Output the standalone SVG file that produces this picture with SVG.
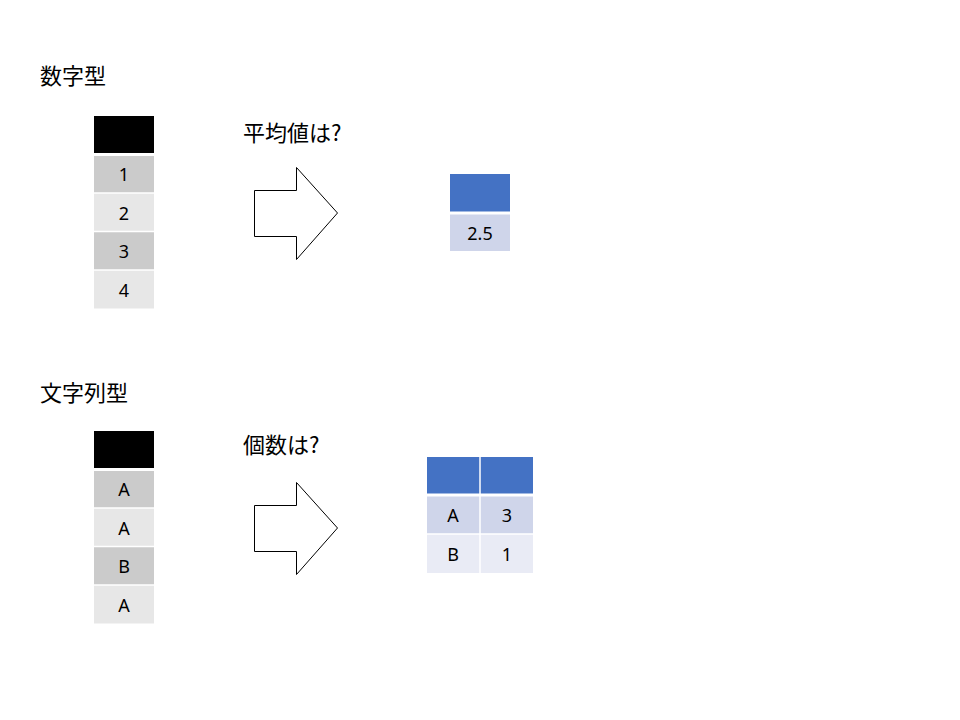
<svg xmlns="http://www.w3.org/2000/svg" width="960" height="720" viewBox="0 0 960 720">
<style>
.title{font-family:"Noto Sans CJK JP","Noto Sans",sans-serif;font-size:22px;fill:#000}
.cell{font-family:"Noto Sans","Liberation Sans",sans-serif;font-size:18px;fill:#000;text-anchor:middle}
.hdr{fill:#000}
.dk{fill:#CBCBCB}
.lt{fill:#E7E7E7}
.bh{fill:#4472C4}
.b1{fill:#CFD5EA}
.b2{fill:#E9EBF5}
.sep{stroke:#fff;stroke-width:1.5}
.sepH{stroke:#fff;stroke-width:3}
.arrow{fill:#fff;stroke:#000;stroke-width:1}
</style>
<rect width="960" height="720" fill="#fff"/>

<g id="numeric-section">
<text class="title" x="40" y="84">数字型</text>
<g id="numeric-table">
<rect class="hdr" x="94" y="116" width="60" height="38.5"/>
<rect class="dk" x="94" y="154.5" width="60" height="38.5"/>
<rect class="lt" x="94" y="193" width="60" height="38.5"/>
<rect class="dk" x="94" y="231.5" width="60" height="38.5"/>
<rect class="lt" x="94" y="270" width="60" height="38.5"/>
<line class="sepH" x1="94" y1="154.5" x2="154" y2="154.5"/>
<line class="sep" x1="94" y1="193" x2="154" y2="193"/>
<line class="sep" x1="94" y1="231.5" x2="154" y2="231.5"/>
<line class="sep" x1="94" y1="270" x2="154" y2="270"/>
<text class="cell" x="124" y="181">1</text>
<text class="cell" x="124" y="219.5">2</text>
<text class="cell" x="124" y="258">3</text>
<text class="cell" x="124" y="296.5">4</text>
</g>
<g id="mean-label"><text class="title" x="243" y="141">平均値は?</text></g>
</g>

<g id="mean-table">
<rect class="bh" x="450" y="174" width="60" height="39"/>
<rect class="b1" x="450" y="213" width="60" height="38"/>
<line class="sepH" x1="450" y1="213" x2="510" y2="213"/>
<text class="cell" x="480" y="240">2.5</text>
</g>

<g id="string-section">
<text class="title" x="40" y="401">文字列型</text>
<g id="string-table">
<rect class="hdr" x="94" y="431" width="60" height="38.5"/>
<rect class="dk" x="94" y="469.5" width="60" height="38.5"/>
<rect class="lt" x="94" y="508" width="60" height="38.5"/>
<rect class="dk" x="94" y="546.5" width="60" height="38.5"/>
<rect class="lt" x="94" y="585" width="60" height="38.5"/>
<line class="sepH" x1="94" y1="469.5" x2="154" y2="469.5"/>
<line class="sep" x1="94" y1="508" x2="154" y2="508"/>
<line class="sep" x1="94" y1="546.5" x2="154" y2="546.5"/>
<line class="sep" x1="94" y1="585" x2="154" y2="585"/>
<text class="cell" x="124" y="496">A</text>
<text class="cell" x="124" y="534.5">A</text>
<text class="cell" x="124" y="573">B</text>
<text class="cell" x="124" y="611.5">A</text>
</g>
<g id="count-label"><text class="title" x="243" y="453">個数は?</text></g>
</g>

<g id="count-table">
<rect class="bh" x="427" y="457" width="106" height="38"/>
<rect class="b1" x="427" y="495" width="106" height="39"/>
<rect class="b2" x="427" y="534" width="106" height="39"/>
<line class="sepH" x1="427" y1="495" x2="533" y2="495"/>
<line class="sep" x1="427" y1="534" x2="533" y2="534"/>
<line class="sep" x1="480" y1="457" x2="480" y2="573"/>
<text class="cell" x="453" y="522">A</text>
<text class="cell" x="507" y="522">3</text>
<text class="cell" x="453" y="561">B</text>
<text class="cell" x="507" y="561">1</text>
</g>

<g id="connectors">
<path class="arrow" d="M254.5,190.5 H296.5 V167.5 L337.5,213 L296.5,259.5 V236.5 H254.5 Z"/>
<path class="arrow" d="M254.5,505.5 H296.5 V482.5 L337.5,528 L296.5,574.5 V551.5 H254.5 Z"/>
</g>
</svg>
